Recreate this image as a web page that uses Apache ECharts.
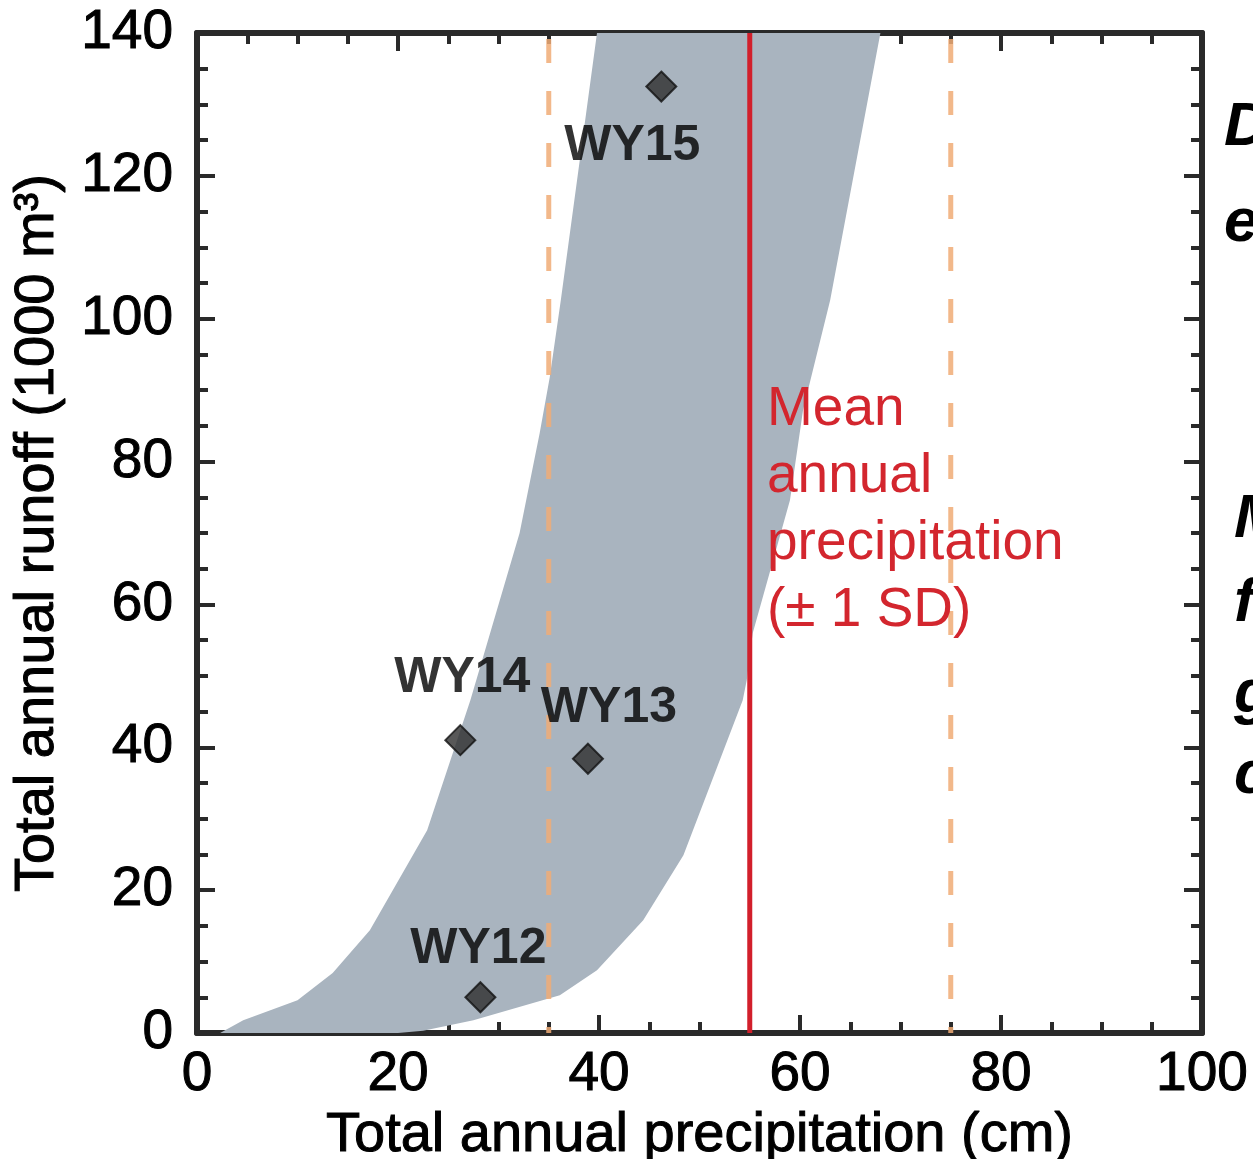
<!DOCTYPE html>
<html>
<head>
<meta charset="utf-8">
<style>
  html, body { margin: 0; padding: 0; background: #ffffff; }
  #chart { width: 1253px; height: 1159px; }
</style>
<script src="https://cdn.jsdelivr.net/npm/echarts@6/dist/echarts.min.js"></script>
</head>
<body>
<div id="chart"></div>
<script>
// ---------- data ----------
const xTicks = [0, 20, 40, 60, 80, 100];
const yTicks = [0, 20, 40, 60, 80, 100, 120, 140];

// observed water years: [precipitation (cm), runoff (1000 m3)]
const yearNames = ['WY12', 'WY13', 'WY14', 'WY15'];
const yearPrecip = [28.2, 38.9, 26.2, 46.2];
const yearRunoff = [5.0, 38.4, 41.0, 132.5];

// modelled envelope (grey band): left/upper edge and right/lower edge
const bandLeftX  = [2.3, 4.6, 10.0, 13.5, 17.2, 22.9, 27.2, 32.1, 34.1, 35.1, 36.2, 39.8];
const bandLeftY  = [0.0, 1.8, 4.6, 8.4, 14.4, 28.4, 46.6, 70.0, 84.0, 91.8, 102.6, 140];
const bandRightX = [20.0, 22.5, 27.5, 36.1, 39.8, 44.4, 48.4, 54.3, 54.7, 55.3, 59.0, 60.3, 63.0, 68.0];
const bandRightY = [0.0, 0.3, 1.8, 5.3, 8.8, 15.8, 24.9, 46.6, 49.4, 56.0, 74.6, 87.2, 102.6, 140];

// mean annual precipitation and +/- 1 SD
const meanPrecip = 55;
const sdPrecip = 20;

const annotationLines = ['Mean', 'annual', 'precipitation', '(± 1 SD)'];

// ---------- build ----------
const bandPolygon = [];
for (let i = 0; i < bandLeftX.length; i++) bandPolygon.push([bandLeftX[i], bandLeftY[i]]);
for (let i = bandRightX.length - 1; i >= 0; i--) bandPolygon.push([bandRightX[i], bandRightY[i]]);

const labelOffsets = {
  WY12: [-2, -48],
  WY13: [21, -50],
  WY14: [2, -62],
  WY15: [-29, 60]
};

const scatterData = yearNames.map((n, i) => ({
  name: n,
  value: [yearPrecip[i], yearRunoff[i]],
  label: { offset: labelOffsets[n] }
}));

const FONT = '"Liberation Sans", Arial, Helvetica, sans-serif';
const AX = '#2a2a2a';

function axisCommon(showLabel) {
  return {
    axisLine: { show: true, onZero: false, lineStyle: { color: AX, width: 6 } },
    axisTick: { show: true, inside: true, length: 18, lineStyle: { color: AX, width: 4 } },
    minorTick: { show: true, splitNumber: 4, length: 11, lineStyle: { color: AX, width: 4 } },
    splitLine: { show: false },
    axisLabel: { show: showLabel }
  };
}

const chart = echarts.init(document.getElementById('chart'), null, { renderer: 'canvas' });

const xMin = xTicks[0], xMax = xTicks[xTicks.length - 1];
const yMin = yTicks[0], yMax = yTicks[yTicks.length - 1];

const textHeavy = { textBorderColor: '#000', textBorderWidth: 1 };

const option = {
  animation: false,
  backgroundColor: '#ffffff',
  grid: { left: 197, right: 51, top: 33, bottom: 126, containLabel: false, outerBoundsMode: 'none' },
  xAxis: [
    Object.assign(axisCommon(true), {
      type: 'value', position: 'bottom', min: xMin, max: xMax, interval: 20,
      name: 'Total annual precipitation (cm)',
      nameLocation: 'middle', nameGap: 72,
      nameTextStyle: Object.assign({ fontFamily: FONT, fontSize: 56, color: '#000' }, textHeavy),
      axisLabel: Object.assign({ show: true, margin: 14, fontFamily: FONT, fontSize: 55, color: '#000' }, textHeavy)
    }),
    Object.assign(axisCommon(false), {
      type: 'value', position: 'top', min: xMin, max: xMax, interval: 20
    })
  ],
  yAxis: [
    Object.assign(axisCommon(true), {
      type: 'value', position: 'left', min: yMin, max: yMax, interval: 20,
      name: 'Total annual runoff (1000 m³)',
      nameLocation: 'middle', nameGap: 131,
      nameTextStyle: Object.assign({ fontFamily: FONT, fontSize: 56, color: '#000' }, textHeavy),
      axisLabel: Object.assign({ show: true, margin: 24, fontFamily: FONT, fontSize: 55, color: '#000' }, textHeavy)
    }),
    Object.assign(axisCommon(false), {
      type: 'value', position: 'right', min: yMin, max: yMax, interval: 20
    })
  ],
  series: [
    {
      type: 'custom',
      name: 'band',
      clip: true,
      z: 1,
      data: bandPolygon,
      renderItem: function (params, api) {
        if (params.dataIndex !== 0) return null;
        const pts = bandPolygon.map(p => api.coord(p));
        return {
          type: 'polygon',
          shape: { points: pts },
          style: { fill: '#a9b4bf', stroke: null }
        };
      }
    },
    {
      type: 'line', name: 'minus SD', z: 3, symbol: 'none',
      data: [[meanPrecip - sdPrecip, yMin], [meanPrecip - sdPrecip, yMax]],
      lineStyle: { color: '#f0ab76', width: 5, type: [24, 28], dashOffset: 18, opacity: 0.85 }
    },
    {
      type: 'line', name: 'plus SD', z: 3, symbol: 'none',
      data: [[meanPrecip + sdPrecip, yMin], [meanPrecip + sdPrecip, yMax]],
      lineStyle: { color: '#f0ab76', width: 5, type: [24, 28], dashOffset: 18, opacity: 0.85 }
    },
    {
      type: 'line', name: 'mean', z: 4, symbol: 'none',
      data: [[meanPrecip, yMin], [meanPrecip, yMax]],
      lineStyle: { color: '#d21f2b', width: 5 }
    },
    {
      type: 'scatter', name: 'years', z: 6,
      symbol: 'diamond', symbolSize: 30,
      itemStyle: { color: '#2e2e2e', borderColor: '#111111', borderWidth: 2 },
      label: {
        show: true, position: 'inside', formatter: '{b}',
        fontFamily: FONT, fontSize: 50, fontWeight: 'bold', color: '#000',
        textBorderWidth: 0
      },
      data: scatterData
    }
  ],
  graphic: [
    {
      type: 'text', left: 767, top: 376, z: 10,
      style: {
        text: annotationLines.join('\n'),
        font: '55px ' + FONT, fill: '#d3262e', lineHeight: 67
      }
    },
    { type: 'text', x: 1224, y: 128, style: { text: 'D', font: 'italic bold 62px ' + FONT, fill: '#000', verticalAlign: 'middle' } },
    { type: 'text', x: 1224, y: 224, style: { text: 'e', font: 'italic bold 62px ' + FONT, fill: '#000', verticalAlign: 'middle' } },
    { type: 'text', x: 1234, y: 520, style: { text: 'M', font: 'italic bold 62px ' + FONT, fill: '#000', verticalAlign: 'middle' } },
    { type: 'text', x: 1234, y: 604, style: { text: 'f', font: 'italic bold 62px ' + FONT, fill: '#000', verticalAlign: 'middle' } },
    { type: 'text', x: 1234, y: 695, style: { text: 'g', font: 'italic bold 62px ' + FONT, fill: '#000', verticalAlign: 'middle' } },
    { type: 'text', x: 1234, y: 776, style: { text: 'c', font: 'italic bold 62px ' + FONT, fill: '#000', verticalAlign: 'middle' } }
  ]
};

chart.setOption(option);
</script>
</body>
</html>
